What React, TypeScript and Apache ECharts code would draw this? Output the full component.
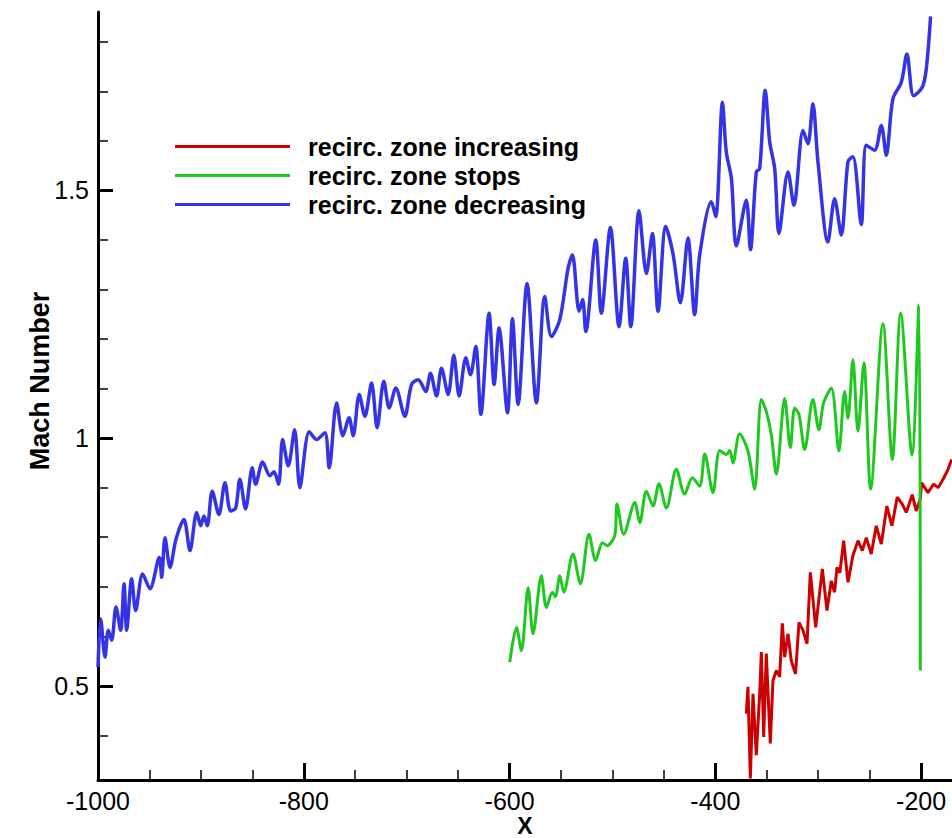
import React, { useEffect, useRef } from "react";
import * as echarts from "echarts";

// ---- tick values ----
const xMajorTicks = [-1000, -800, -600, -400, -200];
const xMinorTicks = [-950, -900, -850, -750, -700, -650, -550, -500, -450, -350, -300, -250];
const yMajorTicks = [0.5, 1, 1.5];
const yMinorTicks = [0.4, 0.6, 0.7, 0.8, 0.9, 1.1, 1.2, 1.3, 1.4, 1.6, 1.7, 1.8];

// ---- series: recirc. zone decreasing (blue) ----
const blueX = [
  -1000, -997.4, -993.2, -990, -986.7, -982.5, -978, -974.7, -972.1, -967.3, -963.4, -956.6, -949.5,
  -940.4, -938.1, -934.9, -930, -924.2, -916.5, -910.6, -904.1, -900.2, -897, -893.8, -889, -882.5,
  -876.6, -871.1, -866.2, -862.1, -856.6, -850.1, -846.8, -840, -832.9, -829, -824.5, -820.6, -815.1,
  -808.9, -803.8, -794.7, -787.6, -779.5, -775.3, -768.1, -762, -755.9, -752, -746.1, -740.6, -734.1,
  -728.7, -722.2, -717, -710.5, -701.8, -695.3, -688.8, -681.4, -676.9, -671, -666.2, -659.7, -654.2,
  -649, -642.5, -638, -632.8, -627.9, -619.9, -615, -610.2, -602, -597.2, -591.7, -583, -573.9, -565.8,
  -559.3, -551.2, -543.1, -539, -532.4, -529, -525.9, -516.2, -510.8, -502, -493.6, -487.1, -482.2,
  -474.2, -467, -461.2, -455.7, -448.2, -441, -434, -426.6, -420.1, -415.2, -403.8, -399.6, -393.1,
  -389.4, -384.4, -379.6, -369.9, -365.9, -360.2, -356.9, -351.5, -347.2, -342.3, -338.2, -329.4,
  -323.6, -314.8, -310, -305.2, -300.3, -290.6, -284.1, -277.6, -271.1, -266.3, -258.2, -253.3, -245.2,
  -238.7, -233.9, -227.4, -219.3, -213.8, -207.3, -198.9, -195, -190.8,
];
const blueY = [
  0.538, 0.635, 0.558, 0.612, 0.592, 0.659, 0.612, 0.706, 0.612, 0.716, 0.652, 0.726, 0.696,
  0.759, 0.719, 0.799, 0.739, 0.796, 0.836, 0.773, 0.85, 0.823, 0.843, 0.823, 0.893, 0.846,
  0.91, 0.853, 0.859, 0.917, 0.857, 0.94, 0.907, 0.952, 0.924, 0.932, 0.907, 0.997, 0.944,
  1.017, 0.9, 1.013, 0.997, 1.011, 0.94, 1.071, 1.005, 1.041, 1.005, 1.088, 1.044, 1.111,
  1.021, 1.115, 1.061, 1.101, 1.044, 1.108, 1.118, 1.094, 1.131, 1.085, 1.141, 1.088, 1.167,
  1.085, 1.162, 1.128, 1.185, 1.048, 1.252, 1.108, 1.222, 1.051, 1.241, 1.068, 1.312, 1.071, 1.286,
  1.205, 1.239, 1.343, 1.37, 1.256, 1.28, 1.215, 1.4, 1.252, 1.425, 1.225, 1.363, 1.225,
  1.459, 1.332, 1.413, 1.256, 1.427, 1.37, 1.273, 1.404, 1.249, 1.37, 1.477, 1.447, 1.678,
  1.578, 1.524, 1.388, 1.48, 1.38, 1.537, 1.544, 1.702, 1.598, 1.544, 1.413, 1.537,
  1.47, 1.621, 1.594, 1.675, 1.558, 1.396, 1.483, 1.41, 1.558, 1.568, 1.431, 1.591, 1.581,
  1.631, 1.571, 1.685, 1.718, 1.775, 1.691, 1.708, 1.745, 1.851,
];

// ---- series: recirc. zone stops (green) ----
const greenX = [
  -599.8, -593.3, -588.5, -582, -577.2, -569.1, -564.2, -558.4, -555.5, -551.2, -547.3, -538.4, -531.2,
  -522.8, -516.3, -509.8, -505.3, -497.8, -495.6, -489, -478.3, -473.5, -467, -460.6, -454.8, -447.6,
  -437.9, -429.8, -422.4, -415.2, -410.3, -402.3, -395.8, -389.3, -386, -382.9, -376.4, -368.3, -361.8,
  -355.3, -350.5, -345.6, -340.7, -332.6, -327.1, -322.9, -318.7, -313.2, -305.2, -299.4, -294.8,
  -287.3, -279.9, -274.4, -271.1, -266.3, -261.4, -255.6, -249.1, -237.1, -228, -219.9, -208.9,
  -202.3, -200.8,
];
const greenY = [
  0.548, 0.618, 0.571, 0.698, 0.605, 0.722, 0.658, 0.689, 0.68, 0.722, 0.689, 0.766, 0.706,
  0.806, 0.753, 0.789, 0.783, 0.803, 0.867, 0.806, 0.87, 0.829, 0.893, 0.863, 0.908, 0.859,
  0.937, 0.887, 0.92, 0.903, 0.968, 0.89, 0.975, 0.967, 0.975, 0.95, 1.009, 0.974, 0.897,
  1.078, 1.054, 1.007, 0.927, 1.08, 0.981, 1.061, 1.048, 0.977, 1.078, 1.017, 1.071,
  1.101, 0.974, 1.094, 1.04, 1.158, 1.014, 1.152, 0.897, 1.231, 0.957, 1.252, 0.966,
  1.268, 0.531,
];

// ---- series: recirc. zone increasing (red) ----
const redX = [
  -369.9, -368.3, -366, -363.4, -360.2, -356.9, -355.3, -353, -350.5, -346.6, -344, -340.7, -337.5,
  -334.9, -332.6, -329.4, -326.2, -322.1, -318.7, -314.8, -310.9, -307.7, -302.5, -296, -291.5,
  -287.3, -284.1, -281.8, -279, -275.3, -271.1, -266.3, -261.4, -257.2, -253.3, -248.5, -243.6,
  -238.7, -233.3, -228.4, -223.2, -218.4, -214.4, -208.6, -204.8, -200.8, -199.5, -193.4, -187.9,
  -183.5, -178.7, -173.8, -170.4,
];
const redY = [
  0.444, 0.498, 0.313, 0.484, 0.36, 0.484, 0.568, 0.397, 0.565, 0.384, 0.511, 0.531, 0.518,
  0.626, 0.558, 0.605, 0.551, 0.524, 0.628, 0.612, 0.585, 0.729, 0.618, 0.736, 0.652,
  0.712, 0.689, 0.739, 0.728, 0.793, 0.709, 0.763, 0.793, 0.773, 0.799, 0.766, 0.823,
  0.786, 0.863, 0.823, 0.881, 0.867, 0.85, 0.886, 0.853, 0.877, 0.91, 0.89, 0.907,
  0.9, 0.917, 0.937, 0.957,
];

const seriesNames = ["recirc. zone increasing", "recirc. zone stops", "recirc. zone decreasing"];
const seriesColors = ["#cc0000", "#1ec81e", "#3434e6"];

const FONT = "'Liberation Sans', Arial, Helvetica, sans-serif";

const zip = (xs: number[], ys: number[]) => xs.map((x, i) => [x, ys[i]]);

export default function App() {
  const ref = useRef<HTMLDivElement>(null);

  useEffect(() => {
    if (!ref.current) return;
    const chart = echarts.init(ref.current, undefined, { renderer: "svg" });
    const xMin = -1000;
    const xMax = -170;
    const yMin = 0.31;
    const yMax = 1.86;

    const majorTick = { show: true, inside: true, length: 16, lineStyle: { color: "#000", width: 3 } };
    const minorTick = { show: true, inside: true, length: 10, lineStyle: { color: "#000", width: 1.5 } };

    chart.setOption({
      animation: false,
      backgroundColor: "#ffffff",
      textStyle: { fontFamily: FONT },
      grid: { left: 98, right: 0, top: 12, bottom: 58, containLabel: false, outerBoundsMode: "none" },
      legend: {
        show: true,
        orient: "vertical",
        left: 170,
        top: 128,
        itemGap: 2,
        itemWidth: 115,
        itemHeight: 3,
        icon: "rect",
        data: seriesNames,
        textStyle: {
          fontFamily: FONT,
          fontSize: 25,
          fontWeight: "bold",
          color: "#000",
          lineHeight: 27,
          padding: [0, 0, 0, 13],
        },
      },
      xAxis: [
        {
          type: "value",
          min: xMin,
          max: xMax,
          position: "bottom",
          axisLine: { show: true, onZero: false, lineStyle: { color: "#000", width: 3 } },
          axisTick: { ...majorTick, length: 17, customValues: xMajorTicks },
          axisLabel: {
            customValues: xMajorTicks,
            formatter: (v: number) => String(v),
            margin: 8,
            fontSize: 25,
            lineHeight: 25,
            color: "#000",
            fontFamily: FONT,
          },
          splitLine: { show: false },
          name: "X",
          nameLocation: "middle",
          nameGap: 35,
          nameMoveOverlap: false,
          nameTextStyle: { fontSize: 23, fontWeight: "bold", color: "#000", fontFamily: FONT, lineHeight: 22 },
        },
        {
          type: "value",
          min: xMin,
          max: xMax,
          position: "bottom",
          axisLine: { show: false, onZero: false },
          axisTick: { ...minorTick, customValues: xMinorTicks },
          axisLabel: { show: false },
          splitLine: { show: false },
        },
      ],
      yAxis: [
        {
          type: "value",
          min: yMin,
          max: yMax,
          position: "left",
          axisLine: { show: true, onZero: false, lineStyle: { color: "#000", width: 3 } },
          axisTick: { ...majorTick, length: 15, customValues: yMajorTicks },
          axisLabel: {
            customValues: yMajorTicks,
            formatter: (v: number) => String(v),
            margin: 9,
            fontSize: 25,
            color: "#000",
            fontFamily: FONT,
          },
          splitLine: { show: false },
          name: "Mach Number",
          nameLocation: "middle",
          nameGap: 45,
          nameMoveOverlap: false,
          nameRotate: 90,
          nameTextStyle: {
            fontSize: 27,
            fontWeight: "bold",
            color: "#000",
            fontFamily: FONT,
            padding: [0, 0, 0, 30],
          },
        },
        {
          type: "value",
          min: yMin,
          max: yMax,
          position: "left",
          axisLine: { show: false, onZero: false },
          axisTick: { ...minorTick, customValues: yMinorTicks },
          axisLabel: { show: false },
          splitLine: { show: false },
        },
      ],
      series: [
        {
          name: seriesNames[0],
          type: "line",
          data: zip(redX, redY),
          showSymbol: false,
          symbol: "none",
          color: seriesColors[0],
          lineStyle: { color: seriesColors[0], width: 3 },
          smooth: false,
        },
        {
          name: seriesNames[1],
          type: "line",
          data: zip(greenX, greenY),
          showSymbol: false,
          symbol: "none",
          color: seriesColors[1],
          lineStyle: { color: seriesColors[1], width: 3 },
          smooth: 0.3,
        },
        {
          name: seriesNames[2],
          type: "line",
          data: zip(blueX, blueY),
          showSymbol: false,
          symbol: "none",
          color: seriesColors[2],
          lineStyle: { color: seriesColors[2], width: 3.5 },
          smooth: 0.3,
        },
      ],
    });

    return () => chart.dispose();
  }, []);

  return (
    <div
      ref={ref}
      style={{ position: "fixed", left: 0, top: 0, width: 952, height: 838, background: "#fff" }}
    />
  );
}
